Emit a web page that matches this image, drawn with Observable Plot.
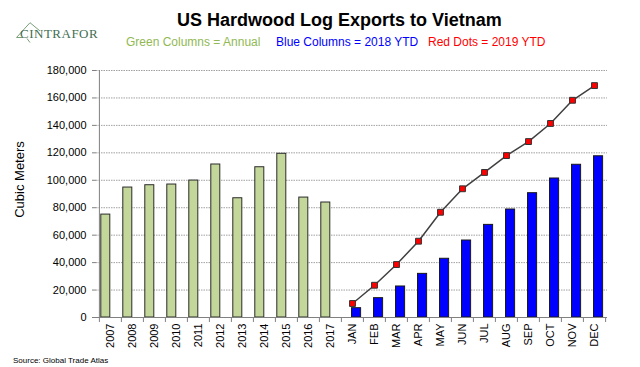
<!DOCTYPE html>
<html>
<head>
<meta charset="utf-8">
<script src="https://cdn.jsdelivr.net/npm/d3@7"></script>
<script src="https://cdn.jsdelivr.net/npm/@observablehq/plot@0.6"></script>
<style>
  html, body { margin: 0; padding: 0; background: #fff; }
  #wrap { position: relative; width: 640px; height: 367px; overflow: hidden; font-family: "Liberation Sans", Arial, sans-serif; }
  #chart { position: absolute; left: 0; top: 0; }
  .abs { position: absolute; white-space: nowrap; }
  #title { left: 177px; top: 11px; font-size: 18px; line-height: 18px; font-weight: bold; color: #000; }
  .sub { top: 36px; font-size: 12px; line-height: 12px; }
  #ylab { left: -31px; top: 172.5px; width: 100px; text-align: center; font-size: 13px; line-height: 13px; transform: rotate(-90deg); color: #000; }
  #source { left: 13px; top: 357px; font-size: 8px; line-height: 8px; color: #000; }
  #logo { left: 0; top: 0; }
</style>
</head>
<body>
<div id="wrap">
  <div id="chart"></div>
  <svg id="logo" class="abs" width="110" height="50">
    <path d="M16.5,37.5 L30,22.7 L40,31" fill="none" stroke="#7aa07a" stroke-width="1"/>
    <path d="M16.5,37.5 L23,37.5 M27,38.5 L30,42.5" fill="none" stroke="#7aa07a" stroke-width="1"/>
    <text x="20" y="37.5" font-family="Liberation Serif, serif" font-size="13" letter-spacing="0.5" fill="#3f6e52">CINTRAFOR</text>
  </svg>
  <div id="title" class="abs">US Hardwood Log Exports to Vietnam</div>
  <div class="abs sub" style="left:126px;color:#92b854;">Green Columns = Annual</div>
  <div class="abs sub" style="left:276px;color:#0000ff;">Blue Columns = 2018 YTD</div>
  <div class="abs sub" style="left:428px;color:#ff0000;">Red Dots = 2019 YTD</div>
  <div id="ylab" class="abs">Cubic Meters</div>
  <div id="source" class="abs">Source: Global Trade Atlas</div>
</div>
<script>
const years = ["2007","2008","2009","2010","2011","2012","2013","2014","2015","2016","2017"];
const annual = [75000, 94700, 96400, 96900, 99800, 111500, 86900, 109500, 119300, 87400, 83800];
const months = ["JAN","FEB","MAR","APR","MAY","JUN","JUL","AUG","SEP","OCT","NOV","DEC"];
const ytd2018 = [6800, 14100, 22600, 31800, 42800, 56100, 67500, 78700, 90600, 101300, 111300, 117500];
const ytd2019 = [10200, 23500, 38600, 55600, 76700, 93800, 105700, 118000, 128200, 141400, 158300, 169000];
const yTicks = [0, 20000, 40000, 60000, 80000, 100000, 120000, 140000, 160000, 180000];

const categories = years.concat(months);
const annualData = years.map((c, i) => ({cat: c, value: annual[i]}));
const blueData = months.map((c, i) => ({cat: c, value: ytd2018[i]}));
const redData = months.map((c, i) => ({cat: c, value: ytd2019[i]}));

const W = 640, H = 367, ML = 96, MR = 33, MT = 70, MB = 50;
const step = (W - ML - MR) / categories.length;

const chart = Plot.plot({
  width: W,
  height: H,
  marginTop: MT,
  marginBottom: MB,
  marginLeft: ML,
  marginRight: MR,
  style: {fontFamily: "Liberation Sans, Arial, sans-serif", fontSize: "11px", color: "#000", background: "transparent"},
  x: {domain: categories, padding: 0, label: null},
  y: {domain: [0, 180000], label: null},
  marks: [
    Plot.gridY(yTicks, {stroke: "#a0a0a0", strokeOpacity: 1, strokeDasharray: "1.5,1", strokeWidth: 1}),
    Plot.barY(annualData, {x: "cat", y: "value", fill: "#c4d79b", stroke: "#2a2a2a", strokeWidth: 1, insetLeft: 1.8, insetRight: 11.2}),
    Plot.barY(blueData, {x: "cat", y: "value", fill: "#0000ff", stroke: "#1a1a1a", strokeWidth: 1, insetLeft: 10.5, insetRight: 2.4}),
    Plot.ruleY([0], {stroke: "#808080"}),
    Plot.ruleX([categories[0]], {y1: 0, y2: 180000, dx: -step / 2, stroke: "#808080"}),
    Plot.axisY({ticks: yTicks, tickFormat: d3.format(","), tickSize: 4, tickPadding: 6, stroke: "#808080", fill: "#000", label: null}),
    Plot.axisX({ticks: categories, tickSize: 5, text: null, dx: -step / 2, stroke: "#808080", label: null}),
    Plot.axisX({ticks: [categories[categories.length - 1]], tickSize: 5, text: null, dx: step / 2, stroke: "#808080", label: null}),
    Plot.axisX({ticks: categories, tickSize: 0, tickPadding: 6, tickRotate: -90, fill: "#000", label: null}),
    Plot.line(redData, {x: "cat", y: "value", stroke: "#404040", strokeWidth: 1.5}),
    Plot.dot(redData, {x: "cat", y: "value", symbol: "square", r: 3.3, fill: "#ff0000", stroke: "#333", strokeWidth: 1})
  ]
});
document.getElementById("chart").appendChild(chart);
</script>
</body>
</html>
